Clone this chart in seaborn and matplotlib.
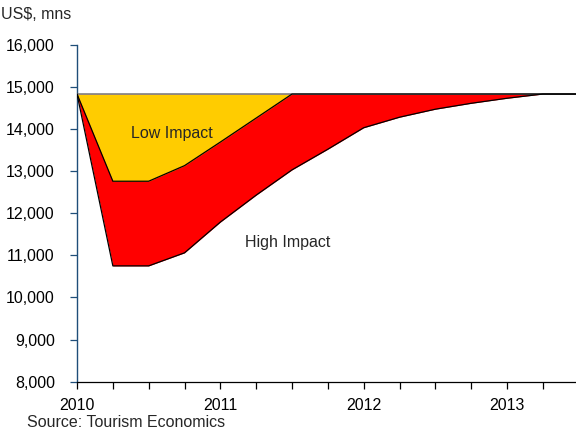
import pandas as pd
import seaborn as sns
import matplotlib.pyplot as plt
import numpy as np

# quarterly points, 2010 Q1 .. 2013 Q3
quarters = [2010.0, 2010.25, 2010.5, 2010.75, 2011.0, 2011.25, 2011.5, 2011.75,
            2012.0, 2012.25, 2012.5, 2012.75, 2013.0, 2013.25, 2013.5]
baseline = [14830] * 15
low_impact = [14830, 12760, 12760, 13130, 13690, 14260, 14830, 14830,
              14830, 14830, 14830, 14830, 14830, 14830, 14830]
high_impact = [14830, 10750, 10750, 11060, 11790, 12430, 13030, 13520,
               14030, 14280, 14470, 14610, 14730, 14830, 14830]
year_ticks = [2010, 2011, 2012, 2013]
y_ticks = [8000, 9000, 10000, 11000, 12000, 13000, 14000, 15000, 16000]

df = pd.DataFrame({
    "Quarter": quarters * 2,
    "Revenue": low_impact + high_impact,
    "Scenario": ["Low"] * 15 + ["High"] * 15,
})

sns.set_style("ticks")
plt.rcParams["font.family"] = ["Liberation Sans", "DejaVu Sans"]
plt.rcParams["font.size"] = 11.5

fig = plt.figure(figsize=(5.76, 4.32), dpi=100)
ax = fig.add_axes([0.1337, 0.1164, 0.871, 0.780])

# shaded areas between the baseline and each scenario
ax.fill_between(quarters, baseline, high_impact, color="#FF0000", linewidth=0, zorder=1)
ax.fill_between(quarters, baseline, low_impact, color="#FFCC00", linewidth=0, zorder=2)
ax.plot(quarters, baseline, color="#808080", linewidth=1.2, zorder=3)
sns.lineplot(data=df, x="Quarter", y="Revenue", hue="Scenario",
             palette={"Low": "black", "High": "black"}, linewidth=0.9,
             legend=False, ax=ax, zorder=4)

ax.text(2010.66, 13900, "Low Impact", ha="center", va="center", fontsize=11.5)
ax.text(2011.47, 11300, "High Impact", ha="center", va="center", fontsize=11.5)

ax.set_xlim(2010, 2013.5)
ax.set_ylim(8000, 16000)
ax.set_xticks(quarters)
ax.set_xticklabels([str(int(q)) if q in year_ticks else "" for q in quarters])
ax.set_yticks(y_ticks)
ax.set_yticklabels([f"{v:,}" for v in y_ticks])
ax.tick_params(axis="both", direction="out", length=5, width=0.9,
               labelsize=11.5, colors="black")
ax.tick_params(axis="x", pad=7)
ax.tick_params(axis="y", color="#1F4E79", pad=11)
ax.set_xlabel("")
ax.set_ylabel("")

sns.despine(ax=ax, top=True, right=True)
ax.spines["left"].set_color("#1F4E79")
ax.spines["left"].set_linewidth(1.0)
ax.spines["bottom"].set_color("black")
ax.spines["bottom"].set_linewidth(0.9)

fig.text(0.002, 0.966, "US$, mns", ha="left", va="center", fontsize=11.5)
fig.text(0.047, 0.004, "Source: Tourism Economics", ha="left", va="bottom", fontsize=11.5)

fig.savefig("out.png", dpi=100)
